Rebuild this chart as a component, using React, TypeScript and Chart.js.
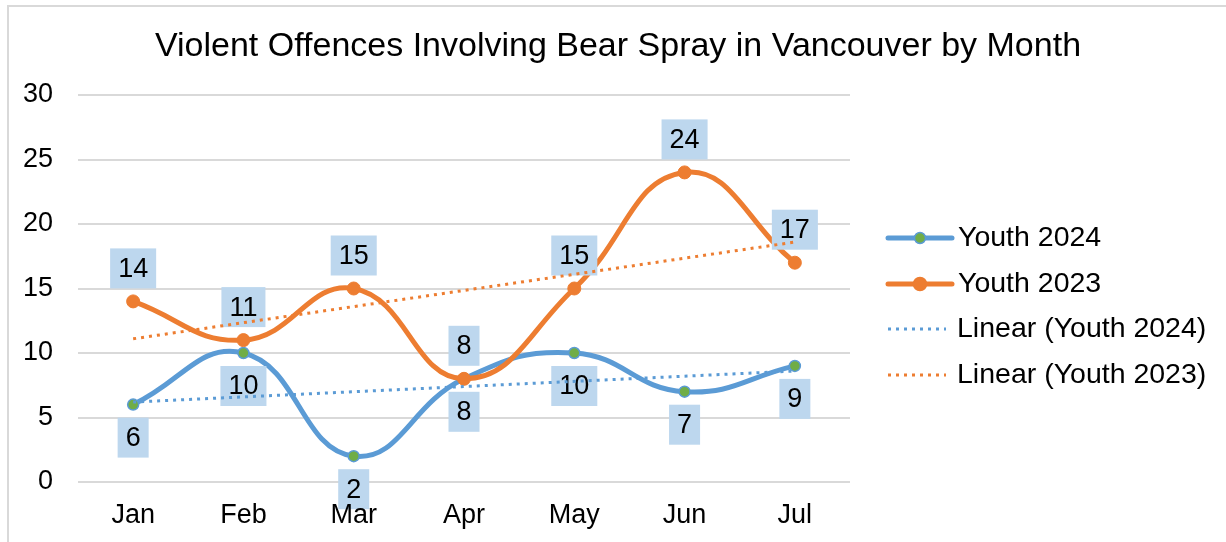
import React, { useEffect, useRef } from "react";
import { Chart, registerables } from "chart.js";

Chart.register(...registerables);

const months = ["Jan", "Feb", "Mar", "Apr", "May", "Jun", "Jul"];
const youth2024 = [6, 10, 2, 8, 10, 7, 9];
const youth2023 = [14, 11, 15, 8, 15, 24, 17];
// trend line end values (straight dotted lines)
const trend2024 = [6.2, null, null, null, null, null, 8.6];
const trend2023 = [11.1, null, null, null, null, null, 18.6];
const yTicks = [0, 5, 10, 15, 20, 25, 30];
const titleText = "Violent Offences Involving Bear Spray in Vancouver by Month";
const legendLabels = ["Youth 2024", "Youth 2023", "Linear (Youth 2024)", "Linear (Youth 2023)"];

const FONT = "'Liberation Sans', Arial, sans-serif";
const BLUE = "#5B9BD5";
const ORANGE = "#ED7D31";
const GREEN = "#70AD47";
const LABEL_BG = "#BDD7EE";

const labelPlugin = {
  id: "boxLabels",
  afterDatasetDraw(chart: any, args: any) {
    const i = args.index;
    if (i > 1) return;
    const ctx = chart.ctx;
    const data = chart.data.datasets[i].data as number[];
    ctx.save();
    ctx.font = `27px ${FONT}`;
    ctx.textAlign = "center";
    ctx.textBaseline = "middle";
    args.meta.data.forEach((pt: any, k: number) => {
      const txt = String(data[k]);
      const w = ctx.measureText(txt).width + 16;
      const h = 40;
      const gap = 13;
      const top = i === 0 ? pt.y + gap : pt.y - gap - h;
      ctx.fillStyle = LABEL_BG;
      ctx.fillRect(pt.x - w / 2, top, w, h);
      ctx.fillStyle = "#000";
      ctx.fillText(txt, pt.x, top + h / 2 + 1);
    });
    ctx.restore();
  },
};

const decorPlugin = {
  id: "decor",
  afterDraw(chart: any) {
    const ctx = chart.ctx;
    ctx.save();
    ctx.fillStyle = "#000";
    ctx.font = `34px ${FONT}`;
    ctx.textAlign = "center";
    ctx.textBaseline = "alphabetic";
    ctx.fillText(titleText, 618, 56);

    // category labels drawn on top of the data label boxes
    const xs = chart.scales.x;
    ctx.font = `27px ${FONT}`;
    ctx.textBaseline = "middle";
    months.forEach((m, k) => {
      ctx.fillText(m, xs.getPixelForValue(k), 516);
    });

    const rows = [238, 284, 329, 375];
    const x0 = 888;
    ctx.font = `28.5px ${FONT}`;
    ctx.textAlign = "left";
    ctx.textBaseline = "middle";
    legendLabels.forEach((lab, k) => {
      const y = rows[k];
      const color = k % 2 === 0 ? BLUE : ORANGE;
      if (k < 2) {
        ctx.strokeStyle = color;
        ctx.lineWidth = 5;
        ctx.lineCap = "round";
        ctx.setLineDash([]);
        ctx.beginPath();
        ctx.moveTo(x0, y);
        ctx.lineTo(x0 + 64, y);
        ctx.stroke();
        ctx.beginPath();
        ctx.arc(x0 + 32, y, k === 0 ? 5.5 : 6.5, 0, Math.PI * 2);
        ctx.fillStyle = k === 0 ? GREEN : ORANGE;
        ctx.fill();
        ctx.lineWidth = 1.5;
        ctx.strokeStyle = color;
        ctx.stroke();
      } else {
        ctx.strokeStyle = color;
        ctx.lineWidth = 3;
        ctx.lineCap = "butt";
        ctx.setLineDash([3, 5]);
        ctx.beginPath();
        ctx.moveTo(x0, y);
        ctx.lineTo(x0 + 58, y);
        ctx.stroke();
        ctx.setLineDash([]);
      }
      ctx.fillStyle = "#000";
      ctx.fillText(lab, k < 2 ? 958 : 957, y);
    });
    ctx.restore();
  },
};

export default function App() {
  const ref = useRef<HTMLCanvasElement | null>(null);
  useEffect(() => {
    if (!ref.current) return;
    const chart = new Chart(ref.current, {
      type: "line",
      data: {
        labels: months,
        datasets: [
          {
            label: legendLabels[0],
            data: youth2024,
            borderColor: BLUE,
            borderWidth: 5,
            tension: 0.45,
            pointRadius: 5.5,
            pointBackgroundColor: GREEN,
            pointBorderColor: BLUE,
            pointBorderWidth: 1.5,
            order: 4,
          },
          {
            label: legendLabels[1],
            data: youth2023,
            borderColor: ORANGE,
            borderWidth: 5,
            tension: 0.45,
            pointRadius: 6.5,
            pointBackgroundColor: ORANGE,
            pointBorderColor: ORANGE,
            pointBorderWidth: 1,
            order: 3,
          },
          {
            label: legendLabels[2],
            data: trend2024,
            borderColor: BLUE,
            borderWidth: 3,
            borderDash: [3, 5],
            pointRadius: 0,
            spanGaps: true,
            tension: 0,
            order: 2,
          },
          {
            label: legendLabels[3],
            data: trend2023,
            borderColor: ORANGE,
            borderWidth: 3,
            borderDash: [3, 5],
            pointRadius: 0,
            spanGaps: true,
            tension: 0,
            order: 1,
          },
        ],
      },
      options: {
        animation: false,
        responsive: true,
        maintainAspectRatio: false,
        layout: { padding: { left: 0, top: 95, right: 376, bottom: 0 } },
        plugins: {
          legend: { display: false },
          title: { display: false },
          tooltip: { enabled: false },
        },
        scales: {
          x: {
            offset: true,
            grid: { display: false, drawTicks: false },
            border: { display: false },
            ticks: { display: false },
            afterFit(scale: any) {
              scale.height = 60;
            },
          },
          y: {
            min: 0,
            max: 30,
            afterBuildTicks(scale: any) {
              scale.ticks = yTicks.map((v) => ({ value: v }));
            },
            grid: { color: "#d9d9d9", lineWidth: 2, drawTicks: false },
            border: { display: false },
            ticks: { color: "#000", font: { family: FONT, size: 27 }, padding: 25 },
            afterFit(scale: any) {
              scale.width = 78;
            },
          },
        },
      },
      plugins: [labelPlugin, decorPlugin],
    } as any);
    return () => chart.destroy();
  }, []);

  return (
    <div style={{ position: "fixed", left: 0, top: 0, width: 1226, height: 542, background: "#fff" }}>
      <div
        style={{
          position: "absolute",
          left: 7,
          top: 5,
          right: 0,
          bottom: -10,
          borderTop: "2px solid #d9d9d9",
          borderLeft: "2px solid #d9d9d9",
        }}
      />
      <canvas ref={ref} style={{ position: "absolute", left: 0, top: 0, width: 1226, height: 542 }} />
    </div>
  );
}
